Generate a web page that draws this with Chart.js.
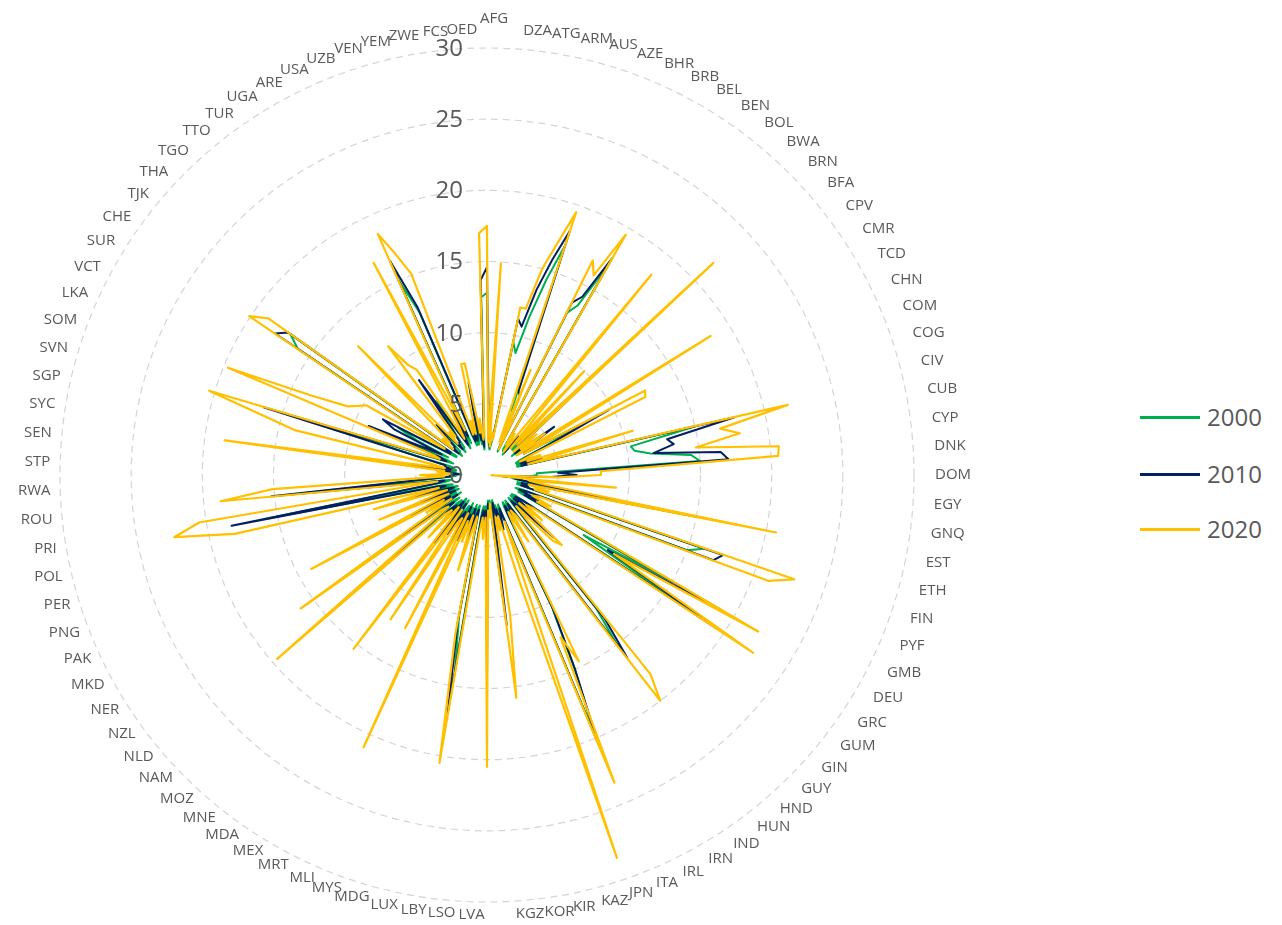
<!DOCTYPE html>
<html>
<head>
<meta charset="utf-8">
<script src="https://cdn.jsdelivr.net/npm/chart.js@4.4.1/dist/chart.umd.min.js"></script>
<style>
  html, body { margin: 0; padding: 0; background: #fff; overflow: hidden; }
  body { width: 1282px; height: 925px; position: relative; font-family: "Open Sans", sans-serif; }
  #chartWrap { position: absolute; left: 0; top: 0; width: 974px; height: 925px; }
  #legend { position: absolute; left: 1140px; top: 0; width: 142px; height: 925px; }
  .item { position: absolute; left: 0; width: 142px; height: 30px; }
  .swatch { position: absolute; left: 0; top: 14px; width: 60px; height: 2.5px; }
  .lbl { position: absolute; left: 67px; top: 0; font-size: 24px; line-height: 30px; color: #595959; }
</style>
</head>
<body>
<div id="chartWrap"><canvas id="radarChart"></canvas></div>
<div id="legend"></div>
<script>
// === Data ===
const countries = [
  'AFG','DZA','ATG','ARM','AUS','AZE','BHR','BRB','BEL','BEN','BOL','BWA',
  'BRN','BFA','CPV','CMR','TCD','CHN','COM','COG','CIV','CUB','CYP','DNK',
  'DOM','EGY','GNQ','EST','ETH','FIN','PYF','GMB','DEU','GRC','GUM','GIN',
  'GUY','HND','HUN','IND','IRN','IRL','ITA','JPN','KAZ','KIR','KOR','KGZ',
  'LVA','LSO','LBY','LUX','MDG','MYS','MLI','MRT','MEX','MDA','MNE','MOZ',
  'NAM','NLD','NZL','NER','MKD','PAK','PNG','PER','POL','PRI','ROU','RWA',
  'STP','SEN','SYC','SGP','SVN','SOM','LKA','VCT','SUR','CHE','TJK','THA',
  'TGO','TTO','TUR','UGA','ARE','USA','UZB','VEN','YEM','ZWE','FCS','OED'
];

// only every other category carries a visible label
const categoryLabels = countries.flatMap(c => [c, '']);

const tickValues = [0, 5, 10, 15, 20, 25, 30];

const values2000 = [
  12.8, 3.0, 2.0, 1.8, 2.2, 3.0, 9.5, 8.8, 11.5, 14.3, 17.0, 5.0,
  4.5, 1.8, 12.7, 13.5, 17.0, 2.2, 2.0, 2.5, 1.8, 3.0, 2.5, 3.5,
  2.5, 11.0, 2.5, 3.0, 2.2, 4.5, 2.5, 4.0, 3.0, 8.0, 4.5, 2.5,
  2.2, 3.0, 2.2, 3.5, 2.2, 15.0, 10.3, 10.5, 11.6, 14.4, 15.0, 3.5,
  3.5, 3.0, 1.0, 2.0, 1.8, 2.5, 15.2, 2.2, 2.5, 2.2, 16.1, 15.0,
  2.5, 2.2, 3.5, 2.5, 15.0, 8.0, 17.0, 2.5, 2.2, 3.5, 2.2, 5.0,
  2.5, 2.2, 3.0, 12.0, 15.0, 2.2, 2.5, 3.5, 2.2, 2.5, 10.2, 14.8,
  19.8, 2.2, 2.5, 3.5, 2.2, 2.5, 1.8, 2.5, 5.5, 1.8, 2.2, 1.8,
  4.0, 2.2, 3.0, 2.2, 2.5, 13.8, 10.0, 2.2, 2.5, 4.5, 2.2, 3.5,
  2.5, 4.0, 2.2, 6.0, 2.5, 3.0, 4.5, 2.2, 5.0, 2.5, 2.2, 4.0,
  2.5, 3.0, 11.0, 2.5, 3.0, 12.0, 2.2, 3.5, 2.5, 5.0, 2.2, 2.5,
  4.5, 2.2, 2.5, 5.0, 2.5, 3.0, 15.6, 3.0, 2.5, 13.0, 3.5, 2.2,
  2.2, 1.8, 2.5, 2.2, 6.0, 2.2, 2.5, 2.5, 5.0, 13.5, 2.5, 3.0,
  7.0, 3.0, 5.5, 7.1, 2.5, 2.5, 16.0, 17.0, 2.2, 2.5, 2.5, 3.5,
  4.5, 2.2, 2.5, 2.5, 3.5, 5.0, 6.3, 2.2, 2.5, 4.5, 2.5, 15.0,
  12.3, 3.0, 2.2, 2.5, 2.2, 2.5, 5.5, 2.2, 2.5, 1.8, 3.0, 12.5
];

const values2010 = [
  14.6, 3.5, 2.5, 2.0, 2.5, 3.0, 11.2, 10.7, 13.5, 15.8, 18.1, 6.3,
  6.0, 2.0, 13.5, 14.2, 17.6, 2.5, 2.5, 3.0, 2.0, 3.5, 3.0, 4.0,
  3.0, 12.0, 3.0, 3.5, 2.5, 5.8, 3.0, 4.0, 3.0, 9.7, 5.0, 3.0,
  2.5, 3.5, 2.5, 4.0, 2.5, 17.8, 12.9, 13.3, 11.8, 16.5, 17.0, 5.0,
  6.3, 4.5, 1.0, 2.5, 2.0, 3.0, 14.5, 2.5, 3.0, 2.5, 17.5, 17.0,
  3.0, 2.5, 4.0, 3.0, 19.0, 10.0, 19.4, 3.0, 2.5, 4.0, 2.5, 6.4,
  3.0, 2.5, 3.5, 13.0, 16.2, 2.5, 3.0, 4.0, 2.5, 3.0, 10.4, 15.0,
  20.3, 2.5, 3.0, 4.0, 2.5, 3.0, 2.0, 3.0, 10.6, 2.0, 2.5, 2.0,
  14.0, 2.5, 3.5, 2.5, 3.0, 17.0, 10.5, 2.5, 3.0, 5.0, 2.5, 4.0,
  3.0, 5.0, 2.5, 7.0, 3.0, 3.5, 5.0, 2.5, 6.0, 3.0, 2.5, 4.5,
  3.0, 3.5, 15.1, 3.0, 3.5, 12.6, 2.5, 4.0, 3.0, 6.0, 2.5, 3.0,
  5.0, 2.5, 3.0, 5.9, 3.0, 3.5, 18.3, 3.5, 3.0, 15.2, 4.0, 2.5,
  2.6, 2.0, 3.0, 2.5, 8.0, 2.5, 3.0, 3.0, 5.0, 16.4, 3.0, 3.5,
  9.0, 3.5, 7.3, 8.3, 3.0, 3.0, 17.9, 17.2, 2.5, 3.0, 3.0, 4.0,
  5.0, 2.5, 3.0, 3.0, 4.0, 8.2, 3.5, 2.5, 3.0, 5.0, 3.0, 16.5,
  12.8, 3.5, 2.5, 3.0, 2.5, 3.0, 6.6, 2.5, 3.0, 2.0, 3.8, 13.7
];

const values2020 = [
  17.5, 2.3, 14.9, 2.0, 3.0, 2.5, 12.0, 12.0, 15.0, 17.0, 19.5, 2.5,
  8.0, 2.0, 16.8, 15.9, 19.5, 2.5, 3.5, 2.0, 4.0, 18.2, 2.5, 10.0,
  3.0, 21.8, 2.5, 4.5, 3.0, 5.0, 2.5, 18.5, 3.0, 12.6, 12.4, 3.5,
  2.5, 4.0, 3.0, 10.7, 3.0, 21.7, 16.7, 18.0, 14.8, 20.6, 20.5, 8.0,
  8.0, 5.0, 0.3, 9.1, 3.0, 4.0, 20.7, 3.0, 4.5, 3.5, 22.8, 21.1,
  4.0, 3.5, 5.0, 4.0, 22.0, 10.5, 22.5, 4.0, 3.5, 5.0, 3.0, 7.2,
  6.5, 3.0, 4.5, 18.1, 20.0, 3.5, 3.0, 5.5, 3.0, 4.0, 14.6, 12.5,
  23.4, 3.5, 28.4, 7.7, 3.0, 4.0, 3.0, 10.0, 15.8, 2.0, 3.0, 2.5,
  20.5, 3.0, 4.5, 3.0, 4.0, 20.5, 11.4, 3.0, 4.0, 7.0, 3.0, 5.0,
  3.5, 21.0, 3.0, 12.2, 3.5, 4.0, 12.2, 3.0, 15.4, 4.0, 3.0, 6.0,
  3.5, 4.0, 19.6, 3.5, 4.0, 16.1, 3.0, 5.0, 3.5, 14.0, 3.0, 4.0,
  8.2, 3.0, 4.0, 8.3, 3.5, 18.2, 22.4, 20.5, 3.5, 18.8, 15.1, 3.0,
  4.7, 2.5, 3.5, 3.0, 18.6, 3.0, 4.0, 13.8, 16.5, 20.4, 3.5, 4.0,
  19.7, 13.5, 10.9, 10.3, 9.8, 3.5, 20.1, 18.9, 3.0, 4.0, 3.5, 5.0,
  12.8, 3.0, 4.0, 3.5, 11.4, 9.5, 8.9, 3.0, 4.0, 16.9, 3.5, 18.6,
  16.8, 15.1, 3.0, 4.0, 3.0, 8.0, 8.0, 3.0, 4.0, 2.5, 3.0, 17.0
];

const seriesNames = ['2000', '2010', '2020'];
const seriesColors = ['#00B050', '#002060', '#FFC000'];

// === Legend (HTML, right side) ===
const legendEl = document.getElementById('legend');
const legendTops = [402, 459, 514];
seriesNames.forEach((name, i) => {
  const item = document.createElement('div');
  item.className = 'item';
  item.style.top = legendTops[i] + 'px';
  item.innerHTML = `<div class="swatch" style="background:${seriesColors[i]}"></div><div class="lbl">${name}</div>`;
  legendEl.appendChild(item);
});

// === Category labels placed the way Excel spreads them round the plot ===
function labelShift(deg) {
  if (deg < 90) return 0.9 * Math.cos(deg * Math.PI / 180);
  if (deg < 180) return 0;
  if (deg < 320) return 0.3 + 2.2 * (deg - 180) / 140;
  return 2.5;
}

function labelDistance(deg) {
  if (deg === 0) return 456;
  const a = deg * Math.PI / 180;
  return 442.5 + 5.5 * Math.sin(a) + 3 * Math.cos(a);
}

const pointLabelPlugin = {
  id: 'excelPointLabels',
  afterDraw(chart) {
    const scale = chart.scales.r;
    const ctx = chart.ctx;
    const n = categoryLabels.length;
    ctx.save();
    ctx.font = '15px "Open Sans"';
    ctx.fillStyle = '#595959';
    ctx.textBaseline = 'middle';
    categoryLabels.forEach((label, i) => {
      if (!label) return;
      const deg = i * 360 / n;
      const p = scale.getPointPosition(i, labelDistance(deg), labelShift(deg) * Math.PI / 180);
      if (deg === 0) ctx.textAlign = 'center';
      else if (deg < 180) ctx.textAlign = 'left';
      else ctx.textAlign = 'right';
      ctx.fillText(label, p.x, p.y);
    });
    ctx.restore();
  }
};

// === Tick labels, drawn left of the vertical axis like Excel ===
const tickLabelPlugin = {
  id: 'tickLabels',
  afterDraw(chart) {
    const scale = chart.scales.r;
    const ctx = chart.ctx;
    ctx.save();
    ctx.font = '24px "Open Sans"';
    ctx.fillStyle = '#595959';
    ctx.textAlign = 'right';
    ctx.textBaseline = 'middle';
    tickValues.forEach(v => {
      const d = scale.getDistanceFromCenterForValue(v);
      ctx.fillText(String(v), scale.xCenter - 24, scale.yCenter - d + 1);
    });
    ctx.restore();
  }
};

// === Chart ===
const lineSet = (i, data, order, width) => ({
  label: seriesNames[i],
  data: data,
  borderColor: seriesColors[i],
  backgroundColor: seriesColors[i],
  borderWidth: width,
  borderJoinStyle: 'round',
  pointRadius: 0,
  pointHitRadius: 0,
  fill: false,
  order: order
});

new Chart(document.getElementById('radarChart'), {
  type: 'radar',
  data: {
    labels: categoryLabels,
    datasets: [
      lineSet(0, values2000, 2, 2),
      lineSet(1, values2010, 1, 2),
      lineSet(2, values2020, 0, 2.2)
    ]
  },
  options: {
    responsive: true,
    maintainAspectRatio: false,
    animation: false,
    layout: { padding: { left: 60, right: 60, top: 48, bottom: 23 } },
    plugins: {
      legend: { display: false },
      tooltip: { enabled: false }
    },
    scales: {
      r: {
        min: 0,
        max: 30,
        ticks: { stepSize: 5, display: false },
        angleLines: { display: false },
        grid: { circular: true, color: '#d4d4d4', lineWidth: 1.2 },
        border: { dash: [7, 5] },
        pointLabels: { display: false }
      }
    }
  },
  plugins: [pointLabelPlugin, tickLabelPlugin]
});
</script>
</body>
</html>
